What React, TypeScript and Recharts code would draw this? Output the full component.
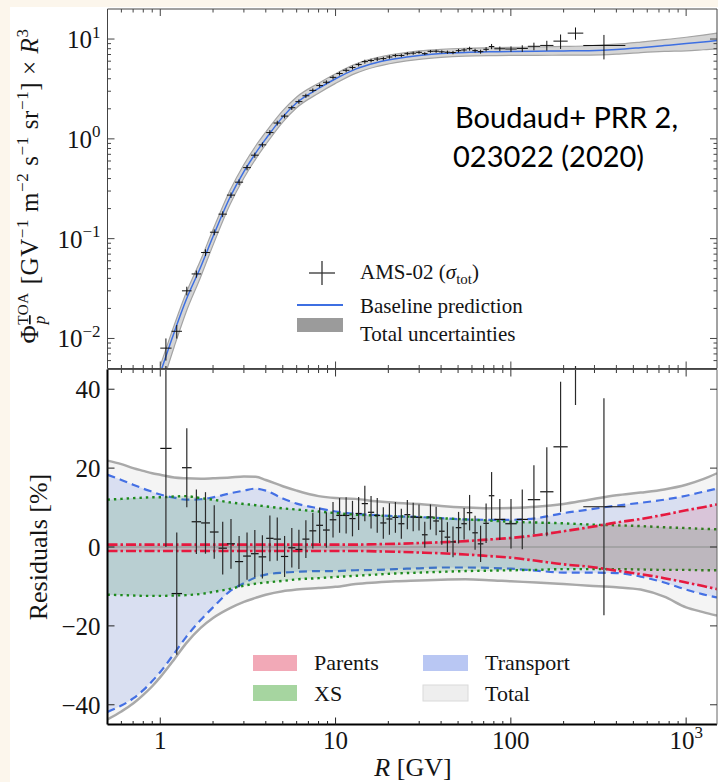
import React from "react";
import {
  ComposedChart,
  Area,
  Line,
  Scatter,
  ErrorBar,
  XAxis,
  YAxis,
  ReferenceLine,
} from "recharts";

// Model grid in rigidity R [GV]
const MODEL_R = [
  0.5, 0.6, 0.7, 0.8, 0.9, 1, 1.2, 1.4, 1.7, 2, 2.5, 3, 3.5, 4, 5, 6, 8, 10, 13,
  17, 22, 30, 40, 55, 75, 100, 140, 200, 280, 400, 550, 750, 1000, 1250, 1500,
];

// Baseline prediction, flux x R^3 (below 1 GV it is off the plot)
const BASELINE = [
  null, null, null, null, null, 0.0045, 0.0115, 0.024, 0.052, 0.105, 0.26, 0.47,
  0.72, 1.0, 1.66, 2.3, 3.2, 4.0, 5.0, 5.8, 6.35, 6.85, 7.15, 7.35, 7.45, 7.5,
  7.55, 7.6, 7.65, 7.85, 8.2, 8.6, 9.0, 9.35, 9.65,
];

// Uncertainty envelopes, in % of the baseline
const TOTAL_UP = [
  21.9, 21.0, 20.0, 19.3, 18.7, 18.3, 17.6, 17.4, 17.3, 17.4, 17.6, 17.9, 17.8,
  17.0, 15.4, 14.3, 12.9, 12.4, 12.2, 11.6, 11.2, 10.9, 10.4, 10.0, 9.8, 9.9,
  10.2, 10.9, 12.0, 13.1, 13.8, 14.6, 15.8, 17.2, 18.7,
];
const TOTAL_LO = [
  -43.7, -41.7, -39.7, -37.5, -35.3, -33.0, -28.5, -24.5, -20.5, -18.0, -15.5,
  -13.9, -12.9, -12.1, -11.2, -10.8, -10.4, -10.1, -9.4, -9.0, -8.7, -8.5, -8.3,
  -8.2, -8.4, -8.7, -9.0, -9.4, -9.8, -10.2, -10.8, -12.6, -15.3, -16.5, -17.4,
];
const TRANSPORT_UP = [
  18.3, 17.0, 15.8, 14.8, 14.0, 13.3, 12.5, 12.0, 12.1, 12.6, 13.6, 14.3, 14.8,
  14.3, 12.3, 11.0, 9.8, 9.0, 8.4, 8.1, 7.8, 7.6, 7.3, 7.0, 6.9, 6.9, 7.3, 8.6,
  9.5, 10.5, 11.2, 12.0, 13.0, 14.0, 14.8,
];
const TRANSPORT_LO = [
  -41.8, -40.2, -38.4, -36.3, -34.0, -31.7, -27.0, -22.9, -18.5, -15.3, -11.2,
  -9.2, -7.7, -7.0, -6.5, -6.3, -6.1, -6.1, -5.9, -5.8, -5.6, -5.4, -5.2, -5.2,
  -5.3, -5.5, -6.0, -6.5, -6.5, -6.6, -7.5, -9.0, -10.8, -12.0, -12.8,
];
const XS_UP = [
  12.0, 12.2, 12.4, 12.5, 12.6, 12.6, 12.8, 12.9, 12.4, 12.0, 11.3, 10.9, 10.6,
  10.3, 9.8, 9.5, 9.0, 8.6, 8.2, 8.0, 7.8, 7.6, 7.3, 7.0, 6.7, 6.4, 6.2, 6.0, 5.7,
  5.5, 5.3, 5.0, 4.8, 4.6, 4.5,
];
const XS_LO = [
  -12.1, -12.2, -12.3, -12.4, -12.4, -12.4, -12.3, -12.2, -11.9, -11.4, -10.6,
  -9.8, -9.3, -9.0, -8.6, -8.2, -7.9, -7.6, -7.3, -7.0, -6.7, -6.5, -6.3, -6.1,
  -6.0, -5.9, -5.8, -5.6, -5.6, -5.6, -5.7, -5.8, -5.8, -5.9, -5.9,
];
const PARENTS_UP = [
  0.6, 0.6, 0.6, 0.6, 0.6, 0.6, 0.6, 0.6, 0.6, 0.6, 0.6, 0.6, 0.6, 0.6, 0.6, 0.6,
  0.6, 0.6, 0.6, 0.7, 0.8, 1.0, 1.2, 1.5, 1.9, 2.3, 3.0, 4.0, 5.0, 6.2, 7.1, 8.2,
  9.3, 10.1, 10.8,
];
const PARENTS_LO = [
  -1.0, -1.0, -1.0, -1.0, -1.0, -1.0, -1.0, -1.0, -1.0, -1.0, -1.0, -1.0, -1.0,
  -1.0, -1.0, -1.0, -1.0, -1.0, -1.0, -1.1, -1.2, -1.4, -1.6, -1.9, -2.3, -2.7,
  -3.5, -4.4, -5.0, -6.0, -6.9, -7.9, -9.0, -9.9, -10.7,
];

// AMS-02 antiproton bins
const BIN_EDGES = [
  1.0, 1.16, 1.33, 1.51, 1.71, 1.92, 2.15, 2.4, 2.67, 2.97, 3.29, 3.64, 4.02,
  4.43, 4.88, 5.37, 5.9, 6.47, 7.09, 7.76, 8.48, 9.26, 10.1, 11.0, 12.0, 13.0,
  14.1, 15.3, 16.6, 18.0, 19.5, 21.1, 22.8, 24.7, 26.7, 28.8, 31.1, 33.5, 36.1,
  38.9, 41.9, 45.1, 48.5, 52.2, 56.1, 60.3, 64.8, 69.7, 74.9, 80.5, 93.0, 108,
  125, 147, 175, 211, 259, 450,
];
const AMS_R = [
  1.077, 1.242, 1.417, 1.607, 1.811, 2.032, 2.271, 2.532, 2.816, 3.126, 3.463,
  3.825, 4.22, 4.649, 5.119, 5.629, 6.178, 6.772, 7.418, 8.112, 8.861, 9.672,
  10.54, 11.49, 12.49, 13.54, 14.69, 15.94, 17.29, 18.73, 20.29, 21.95, 23.73,
  25.68, 27.73, 29.93, 32.28, 34.78, 37.48, 40.37, 43.47, 46.77, 50.32, 54.12,
  58.16, 62.51, 67.21, 72.25, 77.65, 86.52, 100.2, 116.2, 135.4, 160.4, 192.2,
  233.8, 339.7,
];
const AMS_FLUX = [
  0.008, 0.0118, 0.03, 0.0443, 0.0726, 0.116, 0.176, 0.273, 0.368, 0.515, 0.686,
  0.871, 1.155, 1.44, 1.69, 2.05, 2.36, 2.7, 3.06, 3.42, 3.69, 4.13, 4.51, 4.86,
  5.18, 5.55, 5.94, 6.09, 6.3, 6.37, 6.61, 6.83, 6.85, 7.13, 7.22, 7.36, 7.14,
  7.53, 7.55, 7.45, 7.38, 7.33, 7.65, 7.77, 8.01, 7.66, 7.48, 7.89, 8.42, 7.99,
  7.94, 8.05, 8.46, 8.63, 9.53, 11.46, 8.62,
];
// residual to the baseline and total error, in %
const AMS_RES = [
  25.0, -11.8, 20.1, 6.4, 6.1, 3.8, -0.3, 0.8, -3.7, -2.3, -1.7, -2.5, 2.2, 2.0,
  -2.4, -0.2, -0.6, 2.0, 4.1, 5.5, 4.3, 6.9, 8.0, 8.0, 7.2, 8.5, 11.0, 8.8, 8.0,
  6.1, 7.1, 7.5, 5.9, 8.2, 7.6, 7.5, 3.1, 7.6, 6.6, 4.0, 2.5, 1.3, 4.9, 5.9, 8.7,
  3.6, 0.8, 6.0, 13.0, 7.0, 5.9, 7.0, 12.0, 14.0, 25.4, 50.0, 10.2,
];
const AMS_ERR = [
  25, 15.5, 10, 8.2, 7.8, 6.8, 6.7, 6.3, 6.5, 6, 6, 5.5, 5.8, 5.5, 5.2, 5, 5, 4.8,
  4.5, 4.5, 4.5, 4.5, 4.4, 4.6, 4.5, 4.2, 4.5, 4.1, 4.4, 4.0, 4.0, 3.9, 3.8, 3.7,
  3.6, 3.3, 3.3, 3.2, 3.6, 3.4, 3.8, 3.9, 4.0, 4.0, 4.5, 4.3, 4.6, 5.0, 6.0, 5.2,
  6.3, 7.6, 8.7, 11.3, 16.5, 14.0, 27.5,
];

// Axis ticks and labels
const X_TICKS = [
  0.6, 0.7, 0.8, 0.9, 1, 2, 3, 4, 5, 6, 7, 8, 9, 10, 20, 30, 40, 50, 60, 70, 80,
  90, 100, 200, 300, 400, 500, 600, 700, 800, 900, 1000,
];
const X_MAJOR = [1, 10, 100, 1000];
const X_LABELS = ["1", "10", "100", "10^3"];
const FLUX_TICKS = [
  0.006, 0.007, 0.008, 0.009, 0.01, 0.02, 0.03, 0.04, 0.05, 0.06, 0.07, 0.08,
  0.09, 0.1, 0.2, 0.3, 0.4, 0.5, 0.6, 0.7, 0.8, 0.9, 1, 2, 3, 4, 5, 6, 7, 8, 9, 10,
];
const FLUX_MAJOR = [0.01, 0.1, 1, 10];
const FLUX_LABELS = ["10^\u22122", "10^\u22121", "10^0", "10^1"];
const RES_TICKS = [-40, -20, 0, 20, 40];
const RES_LABELS = ["\u221240", "\u221220", "0", "20", "40"];

const topRows = MODEL_R.map((r, i) => {
  const b = BASELINE[i];
  return {
    r,
    base: b,
    band: b == null ? null : [b * (1 + TOTAL_LO[i] / 100), b * (1 + TOTAL_UP[i] / 100)],
  };
}).filter((d) => d.base != null);

const resRows = MODEL_R.map((r, i) => ({
  r,
  total: [TOTAL_LO[i], TOTAL_UP[i]],
  transport: [TRANSPORT_LO[i], TRANSPORT_UP[i]],
  xs: [XS_LO[i], XS_UP[i]],
  parents: [PARENTS_LO[i], PARENTS_UP[i]],
}));

const binErr = (i: number) => [AMS_R[i] - BIN_EDGES[i], BIN_EDGES[i + 1] - AMS_R[i]];

const amsTop = AMS_R.map((r, i) => ({
  r,
  y: AMS_FLUX[i],
  ex: binErr(i),
  ey: (AMS_FLUX[i] * AMS_ERR[i]) / 100,
}));
const amsRes = AMS_R.map((r, i) => ({ r, y: AMS_RES[i], ex: binErr(i), ey: AMS_ERR[i] }));

const SERIF = "'Liberation Serif', 'Times New Roman', serif";
const INK = "#141414";

function Pow({ text, size }: { text: string; size: number }) {
  const [base, exp] = text.split("^");
  return (
    <>
      {base}
      {exp !== undefined && (
        <tspan dy={-size * 0.42} fontSize={size * 0.68}>
          {exp}
        </tspan>
      )}
    </>
  );
}

type Side = "bottom" | "top" | "left" | "right";

// inward tick marks, labels only on major ticks
const makeTick =
  (side: Side, majors: number[], labels: string[] | null, color: string) =>
  (props: any) => {
    const { x, y, payload } = props;
    const k = majors.indexOf(payload.value);
    const len = k >= 0 ? 7 : 3.5;
    let l = [x, y, x, y - len];
    if (side === "top") l = [x, y, x, y + len];
    if (side === "left") l = [x, y, x + len, y];
    if (side === "right") l = [x, y, x - len, y];
    const lab = labels && k >= 0 ? labels[k] : null;
    return (
      <g>
        <line x1={l[0]} y1={l[1]} x2={l[2]} y2={l[3]} stroke={color} strokeWidth={1} />
        {lab && side === "bottom" && (
          <text x={x} y={y + 24} textAnchor="middle" fontSize={25} fontFamily={SERIF} fill={INK}>
            <Pow text={lab} size={25} />
          </text>
        )}
        {lab && side === "left" && (
          <text x={x - 7} y={y + 9} textAnchor="end" fontSize={25} fontFamily={SERIF} fill={INK}>
            <Pow text={lab} size={25} />
          </text>
        )}
      </g>
    );
  };

const EmptyShape = () => <g />;

const xAxisBase = {
  type: "number" as const,
  dataKey: "r",
  scale: "log" as const,
  domain: [0.5, 1500],
  allowDataOverflow: true,
  ticks: X_TICKS,
  interval: 0 as const,
  tickSize: 0,
  tickMargin: 0,
  tickLine: false,
};

const FluxPanel = () => (
  <ComposedChart
    width={718}
    height={372}
    data={topRows}
    margin={{ top: 8, right: 0, bottom: 2.5, left: 0 }}>
    <XAxis
      {...xAxisBase}
      height={1}
      axisLine={{ stroke: "#444", strokeWidth: 1 }}
      tick={makeTick("bottom", X_MAJOR, null, "#444")}
    />
    <XAxis
      {...xAxisBase}
      xAxisId='top'
      orientation='top'
      height={1}
      axisLine={{ stroke: "#444", strokeWidth: 1 }}
      tick={makeTick("top", X_MAJOR, null, "#444")}
    />
    <YAxis
      type='number'
      scale='log'
      domain={[0.005, 20]}
      allowDataOverflow
      ticks={FLUX_TICKS}
      interval={0}
      width={107.5}
      tickSize={0}
      tickMargin={0}
      tickLine={false}
      axisLine={{ stroke: "#444", strokeWidth: 1 }}
      tick={makeTick("left", FLUX_MAJOR, FLUX_LABELS, "#444")}
    />
    <YAxis
      yAxisId='right'
      orientation='right'
      type='number'
      scale='log'
      domain={[0.005, 20]}
      allowDataOverflow
      ticks={FLUX_TICKS}
      interval={0}
      width={1}
      tickSize={0}
      tickMargin={0}
      tickLine={false}
      axisLine={{ stroke: "#444", strokeWidth: 1 }}
      tick={makeTick("right", FLUX_MAJOR, null, "#444")}
    />
    <Area
      type='monotone'
      dataKey='band'
      fill='#9a9a9a'
      fillOpacity={0.42}
      stroke='#a4a4a4'
      strokeWidth={1.2}
      isAnimationActive={false}
    />
    <Line
      type='monotone'
      dataKey='base'
      stroke='#3d6fe2'
      strokeWidth={1.5}
      dot={false}
      isAnimationActive={false}
    />
    <Scatter data={amsTop} dataKey='y' shape={EmptyShape} isAnimationActive={false}>
      <ErrorBar dataKey='ex' direction='x' width={0} stroke='#111' strokeWidth={1} />
      <ErrorBar dataKey='ey' direction='y' width={0} stroke='#111' strokeWidth={1} />
    </Scatter>
  </ComposedChart>
);

const ResidualPanel = () => (
  <ComposedChart
    width={718}
    height={416}
    data={resRows}
    margin={{ top: 2.5, right: 0, bottom: 0, left: 0 }}>
    <XAxis
      {...xAxisBase}
      height={57.5}
      axisLine={{ stroke: "#000", strokeWidth: 2 }}
      tick={makeTick("bottom", X_MAJOR, X_LABELS, "#222")}
    />
    <XAxis
      {...xAxisBase}
      xAxisId='top'
      orientation='top'
      height={1}
      axisLine={{ stroke: "#555", strokeWidth: 1 }}
      tick={makeTick("top", X_MAJOR, null, "#333")}
    />
    <YAxis
      type='number'
      domain={[-45, 45]}
      allowDataOverflow
      ticks={RES_TICKS}
      interval={0}
      width={107.5}
      tickSize={0}
      tickMargin={0}
      tickLine={false}
      axisLine={{ stroke: "#000", strokeWidth: 2 }}
      tick={makeTick("left", RES_TICKS, RES_LABELS, "#222")}
    />
    <YAxis
      yAxisId='right'
      orientation='right'
      type='number'
      domain={[-45, 45]}
      allowDataOverflow
      ticks={RES_TICKS}
      interval={0}
      width={1}
      tickSize={0}
      tickMargin={0}
      tickLine={false}
      axisLine={{ stroke: "#666", strokeWidth: 1 }}
      tick={makeTick("right", RES_TICKS, null, "#333")}
    />
    <Area
      type='monotone'
      dataKey='total'
      fill='#f4f4f4'
      fillOpacity={1}
      stroke='#a9a9a9'
      strokeWidth={2.5}
      isAnimationActive={false}
    />
    <Area
      type='monotone'
      dataKey='transport'
      fill='#4169e1'
      fillOpacity={0.15}
      stroke='#4470e4'
      strokeWidth={2.2}
      strokeDasharray='8 5'
      isAnimationActive={false}
    />
    <Area
      type='monotone'
      dataKey='xs'
      fill='#1e823c'
      fillOpacity={0.17}
      stroke='#1d8a1d'
      strokeWidth={2.4}
      strokeDasharray='2.4 4'
      isAnimationActive={false}
    />
    <Area
      type='monotone'
      dataKey='parents'
      fill='#dc143c'
      fillOpacity={0.13}
      stroke='#e6193f'
      strokeWidth={2.6}
      strokeDasharray='10 3 2.5 3'
      isAnimationActive={false}
    />
    <ReferenceLine y={0} stroke='#9c9c9c' strokeWidth={1.5} />
    <Scatter data={amsRes} dataKey='y' shape={EmptyShape} isAnimationActive={false}>
      <ErrorBar dataKey='ex' direction='x' width={0} stroke='#111' strokeWidth={1.2} />
      <ErrorBar dataKey='ey' direction='y' width={0} stroke='#2a2a2a' strokeWidth={1.2} />
    </Scatter>
  </ComposedChart>
);

// Axis titles, note and legends
const Labels = () => (
  <svg
    width={718}
    height={782}
    style={{ position: "absolute", left: 0, top: 0, pointerEvents: "none" }}
    fontFamily={SERIF}
    fill={INK}>
    <text
      transform='translate(38,186) rotate(-90)'
      textAnchor='middle'
      fontSize={25}
      letterSpacing={0.6}>
      <tspan>Φ</tspan>
      <tspan dy={-10} fontSize={15}>
        TOA
      </tspan>
      <tspan
        dx={-32}
        dy={17}
        fontSize={17}
        fontStyle='italic'
        style={{ textDecoration: "overline" }}>
        p
      </tspan>
      <tspan dx={24} dy={-7}>
        {" [GV"}
      </tspan>
      <tspan dy={-10} fontSize={17}>
        −1
      </tspan>
      <tspan dy={10}>{" m"}</tspan>
      <tspan dy={-10} fontSize={17}>
        −2
      </tspan>
      <tspan dy={10}>{" s"}</tspan>
      <tspan dy={-10} fontSize={17}>
        −1
      </tspan>
      <tspan dy={10}>{" sr"}</tspan>
      <tspan dy={-10} fontSize={17}>
        −1
      </tspan>
      <tspan dy={10}>{"] × "}</tspan>
      <tspan fontStyle='italic'>R</tspan>
      <tspan dy={-10} fontSize={17}>
        3
      </tspan>
    </text>
    <text transform='translate(47,547) rotate(-90)' textAnchor='middle' fontSize={26}>
      Residuals [%]
    </text>
    <text x={413} y={776} textAnchor='middle' fontSize={26}>
      <tspan fontStyle='italic'>R</tspan> [GV]
    </text>

    <g fontFamily="Lato, 'Open Sans', sans-serif" fontSize={29} fill='#000'>
      <text x={455} y={128}>
        Boudaud+ PRR 2,
      </text>
      <text x={453} y={167}>
        023022 (2020)
      </text>
    </g>

    <g fontSize={21}>
      <line x1={309} y1={273} x2={335} y2={273} stroke='#333' strokeWidth={1.3} />
      <line x1={322} y1={261} x2={322} y2={285} stroke='#333' strokeWidth={1.3} />
      <text x={360} y={279}>
        AMS-02 (<tspan fontStyle='italic'>σ</tspan>
        <tspan dy={5} fontSize={15}>
          tot
        </tspan>
        <tspan dy={-5}>)</tspan>
      </text>
      <line x1={297} y1={305} x2={343} y2={305} stroke='#3d6fe2' strokeWidth={1.8} />
      <text x={360} y={313}>
        Baseline prediction
      </text>
      <rect x={297} y={318} width={46} height={14} fill='#9b9b9b' />
      <text x={360} y={341}>
        Total uncertainties
      </text>
    </g>

    <g fontSize={22}>
      <rect x={253} y={655} width={44} height={16} fill='#f2a9b7' />
      <text x={314} y={670}>
        Parents
      </text>
      <rect x={253} y={685} width={44} height={16} fill='#a6d5a0' />
      <text x={314} y={701}>
        XS
      </text>
      <rect x={423} y={655} width={45} height={16} fill='#b9c7f3' />
      <text x={485} y={670}>
        Transport
      </text>
      <rect x={423} y={685} width={45} height={16} fill='#eeeeee' stroke='#dadada' />
      <text x={485} y={701}>
        Total
      </text>
    </g>
  </svg>
);

export default function App() {
  return (
    <div
      style={{
        position: "fixed",
        left: 0,
        top: 0,
        width: 718,
        height: 782,
        background: "#fcf6ec",
        overflow: "hidden",
      }}>
      <div
        style={{ position: "absolute", left: 10, top: 7, right: 0, bottom: 0, background: "#fff" }}
      />
      <div style={{ position: "absolute", left: 0, top: 0 }}>
        <FluxPanel />
      </div>
      <div style={{ position: "absolute", left: 0, top: 366 }}>
        <ResidualPanel />
      </div>
      <Labels />
    </div>
  );
}
